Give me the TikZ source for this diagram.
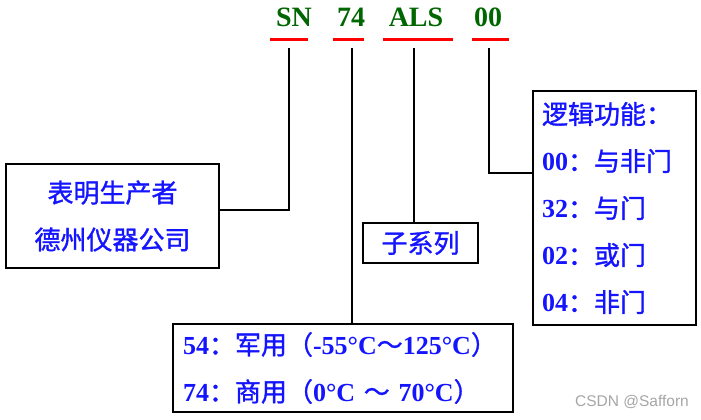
\documentclass[tikz,border=0pt]{standalone}
\usepackage{fontspec}
\setmainfont{Liberation Serif}
\newfontfamily\cjk[FakeBold=1.2]{Noto Sans CJK SC}
\newfontfamily\marksans{Liberation Sans}
\newcommand\zh[1]{{\cjk\mdseries #1}}
\definecolor{partgreen}{RGB}{0,102,0}
\definecolor{txtblue}{RGB}{20,20,255}

\tikzset{
    part/.style={font=\fontsize{28}{30}\selectfont\bfseries, text=partgreen},
    redbar/.style={red, line width=3pt},
    infobox/.style={draw, line width=2.5pt, text=txtblue, inner sep=0pt,
        font=\fontsize{26}{47}\selectfont\bfseries},
    link/.style={line width=2pt},
}

\begin{document}
\begin{tikzpicture}[x=1pt, y=-1pt]
    \useasboundingbox (0,0) rectangle (701,420);
    % The part number, piece by piece.
        \node[part] (sn) at (294,17) {SN};
        \node[part] (temp) at (351,17) {74};
        \node[part] (als) at (416,17) {ALS};
        \node[part] (func) at (488,17) {00};
    % Red bars under each piece.
        \draw[redbar] (270,40) -- (308,40);
        \draw[redbar] (333,40) -- (364,40);
        \draw[redbar] (383,40) -- (453,40);
        \draw[redbar] (472,40) -- (509,40);
    % Below nodes are the boxes.
        \node[infobox, minimum width=213, minimum height=104, align=center] (maker) at (112.5,216)
            {\zh{表明生产者}\\\zh{德州仪器公司}};
        \node[infobox, minimum width=115, minimum height=40] (series) at (420.5,243) {\zh{子系列}};
        \node[infobox, minimum width=340, minimum height=88, text width=320, align=left] (grade) at (343,368)
            {54\zh{：军用（}-55°C\zh{～}125°C\zh{）}\\
             74\zh{：商用（}0°C \zh{～} 70°C\zh{）}};
        \node[infobox, minimum width=163, minimum height=234, text width=145, align=left] (logic) at (614.5,208)
            {\zh{逻辑功能：}\\
             00\zh{：与非门}\\
             32\zh{：与门}\\
             02\zh{：或门}\\
             04\zh{：非门}};
    % Feet of the lines under the bars.
        \coordinate (snfoot) at (289,48);
        \coordinate (tempfoot) at (352,48);
        \coordinate (alsfoot) at (414,48);
        \coordinate (funcfoot) at (489,48);
    % This draws the connectors.
        \draw[link] (snfoot) |- ([yshift=6pt]maker.east);
        \draw[link] (tempfoot) -- (tempfoot |- grade.north);
        \draw[link] (alsfoot) -- (alsfoot |- series.north);
        \draw[link] (funcfoot) |- ([yshift=35pt]logic.west);
    \node[text=gray!70, font=\marksans\fontsize{15.5}{18}\selectfont] (wm) at (632,402) {CSDN @Safforn};
\end{tikzpicture}
\end{document}
